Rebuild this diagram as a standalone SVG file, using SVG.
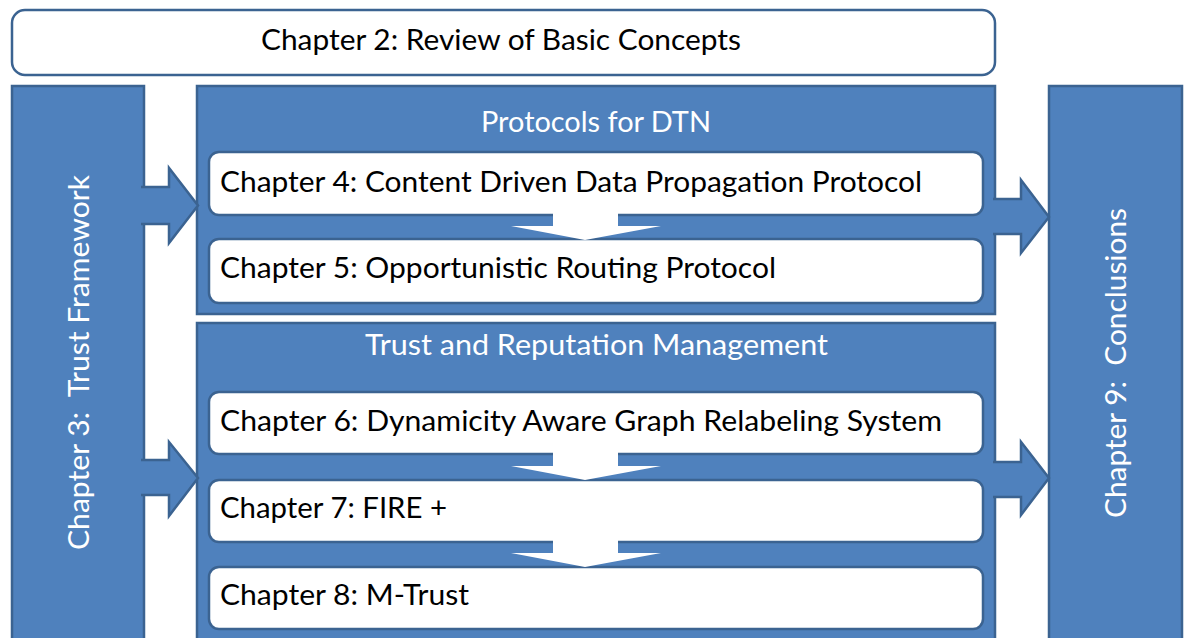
<svg xmlns="http://www.w3.org/2000/svg" width="1190" height="638" viewBox="0 0 1190 638">
<style>
.blue{fill:#4f81bd;stroke:#3b6391;stroke-width:2.5}
.white{fill:#ffffff;stroke:#3b6391;stroke-width:2.5}
.dn{fill:#ffffff;stroke:none}
.t{font-family:Lato,"Open Sans",sans-serif;font-size:28px;fill:#000000}
.tw{font-family:Lato,"Open Sans",sans-serif;font-size:28px;fill:#ffffff}
</style>
<rect width="1190" height="638" fill="#ffffff"/>
<g id="ch2">
<rect class="white" x="12" y="10" width="983" height="65" rx="13"/>
<text class="t" x="261" y="50" textLength="480" lengthAdjust="spacingAndGlyphs">Chapter 2: Review of Basic Concepts</text>
</g>
<g id="ch3">
<rect class="blue" x="12" y="86" width="132" height="570"/>
<text class="tw" transform="translate(89,550) rotate(-90)" x="0" y="0" textLength="375" lengthAdjust="spacingAndGlyphs" xml:space="preserve">Chapter 3:  Trust Framework</text>
</g>
<g id="ch9">
<rect class="blue" x="1049" y="86" width="133" height="570"/>
<text class="tw" transform="translate(1126,518) rotate(-90)" x="0" y="0" textLength="310" lengthAdjust="spacingAndGlyphs" xml:space="preserve">Chapter 9:  Conclusions</text>
</g>
<g id="protocols">
<rect class="blue" x="197" y="86" width="798" height="228"/>
<text class="tw" x="481" y="132" textLength="230" lengthAdjust="spacingAndGlyphs">Protocols for DTN</text>
</g>
<g id="ch4">
<rect class="white" x="209" y="152" width="774" height="63" rx="10"/>
<text class="t" x="220" y="192" textLength="702" lengthAdjust="spacingAndGlyphs">Chapter 4: Content Driven Data Propagation Protocol</text>
</g>
<g id="ch5">
<rect class="white" x="209" y="239" width="774" height="64" rx="10"/>
<text class="t" x="220" y="278" textLength="556" lengthAdjust="spacingAndGlyphs">Chapter 5: Opportunistic Routing Protocol</text>
</g>
<g id="trust">
<rect class="blue" x="197" y="323" width="798" height="330"/>
<text class="tw" x="365" y="355" textLength="463" lengthAdjust="spacingAndGlyphs">Trust and Reputation Management</text>
</g>
<g id="ch6">
<rect class="white" x="209" y="392" width="774" height="62" rx="10"/>
<text class="t" x="220" y="431" textLength="722" lengthAdjust="spacingAndGlyphs">Chapter 6: Dynamicity Aware Graph Relabeling System</text>
</g>
<g id="ch7">
<rect class="white" x="209" y="480" width="774" height="62" rx="10"/>
<text class="t" x="220" y="518" textLength="227" lengthAdjust="spacingAndGlyphs">Chapter 7: FIRE +</text>
</g>
<g id="ch8">
<rect class="white" x="209" y="567" width="774" height="62" rx="10"/>
<text class="t" x="220" y="605" textLength="249" lengthAdjust="spacingAndGlyphs">Chapter 8: M-Trust</text>
</g>
<g id="connectors">
<path class="blue" d="M141,187 L169,187 L169,168 L198,205.5 L169,243 L169,224 L141,224"/>
<path class="blue" d="M141,460 L169,460 L169,442 L198,478 L169,516 L169,495 L141,495"/>
<path class="blue" d="M993,199 L1021,199 L1021,180 L1049,217 L1021,253 L1021,234 L993,234"/>
<path class="blue" d="M993,462 L1021,462 L1021,442 L1049,478 L1021,515 L1021,497 L993,497"/>
<polygon class="dn" points="553,212 618,212 618,226 661,226 585,240 511,226 553,226"/>
<polygon class="dn" points="553,452 618,452 618,466 661,466 585,480 511,466 553,466"/>
<polygon class="dn" points="553,539 618,539 618,553 661,553 585,567 511,553 553,553"/>
</g>
</svg>
